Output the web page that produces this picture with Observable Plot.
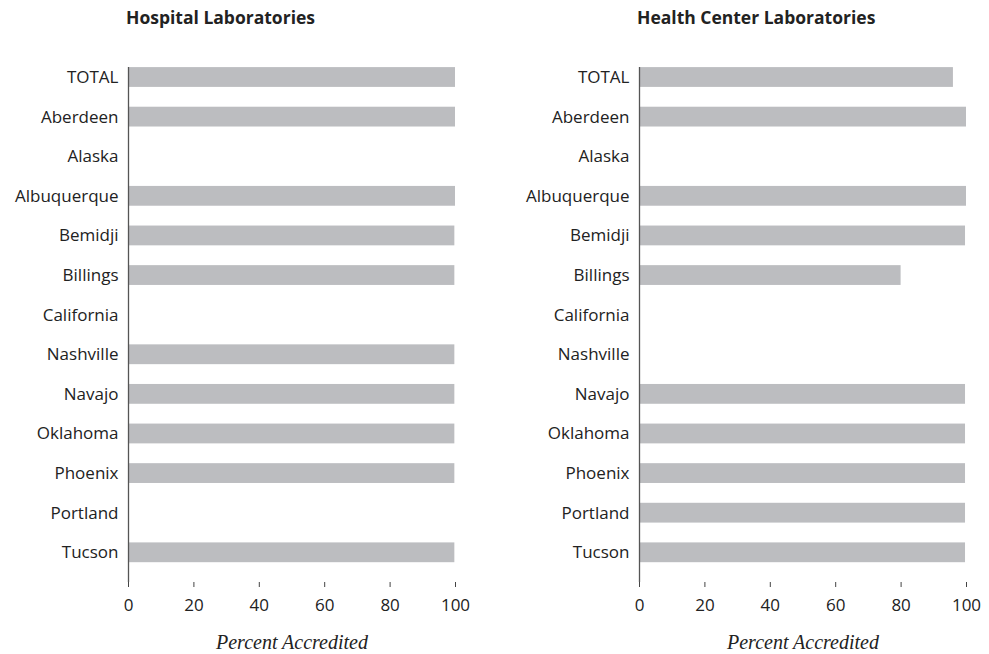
<!DOCTYPE html>
<html>
<head>
<meta charset="utf-8">
<script src="https://cdn.jsdelivr.net/npm/d3@7"></script>
<script src="https://cdn.jsdelivr.net/npm/@observablehq/plot@0.6"></script>
<style>
  html, body { margin: 0; padding: 0; background: #fff; }
  #wrap { display: flex; flex-direction: row; width: 989px; height: 654px; }
  .panel { position: relative; }
  .title { height: 32px; line-height: 34px; font-family: "Open Sans", sans-serif; font-weight: bold; font-size: 17.5px; color: #222; padding-left: 126px; box-sizing: border-box; white-space: nowrap; }
  svg { display: block; }
</style>
</head>
<body>
<div id="wrap">
  <div class="panel" id="left" style="width:511px"><div class="title">Hospital Laboratories</div></div>
  <div class="panel" id="right" style="width:478px"><div class="title">Health Center Laboratories</div></div>
</div>
<script>
const regions = ["TOTAL","Aberdeen","Alaska","Albuquerque","Bemidji","Billings","California","Nashville","Navajo","Oklahoma","Phoenix","Portland","Tucson"];
const hospitalValues = [100, 100, null, 100, 99.8, 99.8, 0, 99.8, 99.8, 99.8, 99.8, 0, 99.8];
const healthCenterValues = [96, 100, null, 100, 99.7, 80, null, null, 99.7, 99.7, 99.7, 99.7, 99.7];
const xTicks = [0, 20, 40, 60, 80, 100];
const panelTitles = ["Hospital Laboratories", "Health Center Laboratories"];
const axisLabel = "Percent Accredited";

function makePanel(values, width, marginRight) {
  const data = regions.map((r, i) => ({region: r, value: values[i]}));
  const present = data.filter(d => d.value != null);
  const zeros = data.filter(d => d.value === 0);
  return Plot.plot({
    width,
    height: 622,
    marginTop: 15.3,
    marginBottom: 72,
    marginLeft: 128,
    marginRight,
    style: {fontFamily: "'Open Sans', sans-serif", fontSize: "17px", color: "#222", background: "#fff"},
    x: {domain: [0, 100], ticks: xTicks},
    y: {domain: regions, padding: 0.5, align: 0.5, round: false},
    marks: [
      Plot.barX(present, {x: "value", y: "region", fill: "#bcbdc0"}),
      Plot.ruleX([0], {stroke: "#555", strokeWidth: 1.3, insetTop: 19.8}),
      Plot.ruleX(zeros, {x: "value", y: "region", stroke: "#1a1a1a", strokeWidth: 1.6}),
      Plot.ruleY([0], {frameAnchor: "bottom", x1: 0, x2: 100, stroke: "#666", strokeWidth: 1.3}),
      Plot.axisX({ticks: xTicks, tickSize: 5, tickPadding: 11, label: null, stroke: "#444", fontSize: 17, fill: "#222"}),
      Plot.axisY({tickSize: 0, tickPadding: 10, label: null, fontSize: 17, fill: "#222"}),
      Plot.text([axisLabel], {frameAnchor: "bottom", dy: 66, fontFamily: "'Liberation Serif', serif", fontStyle: "italic", fontSize: 20, fill: "#222", letterSpacing: "0.6px"})
    ]
  });
}

document.getElementById("left").appendChild(makePanel(hospitalValues, 511, 56));
document.getElementById("right").appendChild(makePanel(healthCenterValues, 478, 23));
</script>
</body>
</html>
